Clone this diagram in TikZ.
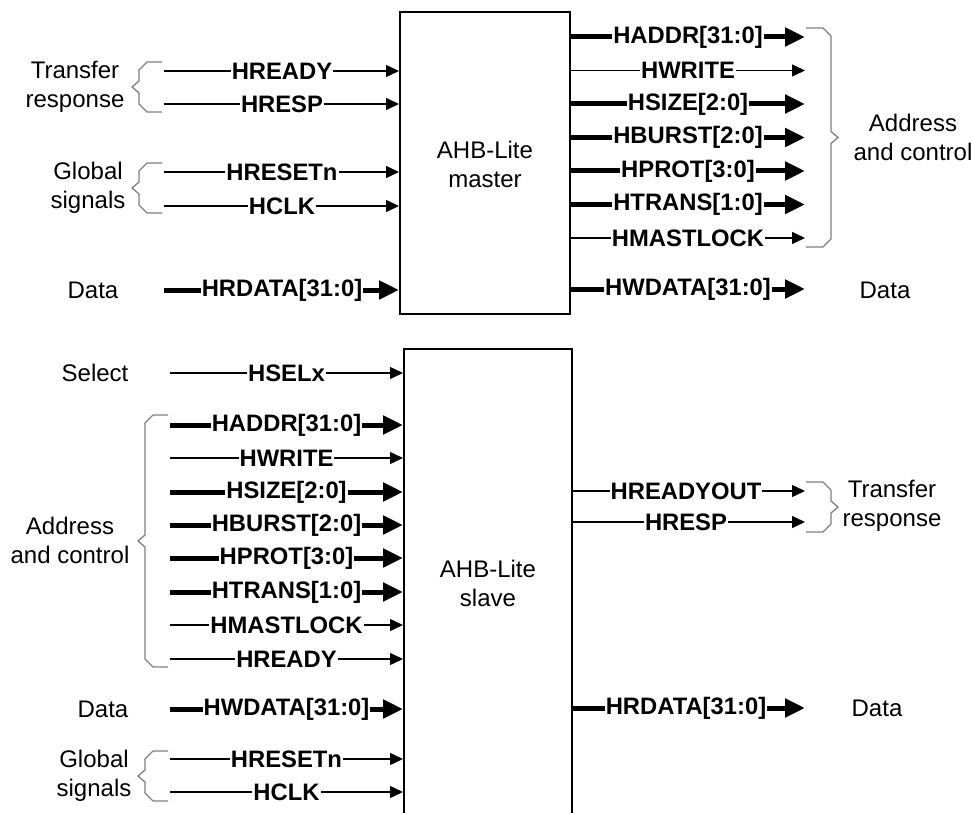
\documentclass[tikz,border=0pt]{standalone}
\usepackage{fontspec}
\setmainfont{Liberation Sans}
\usetikzlibrary{arrows.meta}
\newcommand{\brcL}[4]{% open x, vertical x, top y, bottom y
 \draw[brc] (#1,#3) -- ({#2+8},#3) -- (#2,{#3+8}) -- (#2,{(#3+#4)/2-6}) -- ({#2-7},{(#3+#4)/2}) -- (#2,{(#3+#4)/2+6}) -- (#2,{#4-8}) -- ({#2+8},#4) -- (#1,#4);}
\newcommand{\brcR}[4]{%
 \draw[brc] (#1,#3) -- ({#2-8},#3) -- (#2,{#3+8}) -- (#2,{(#3+#4)/2-6}) -- ({#2+7},{(#3+#4)/2}) -- (#2,{(#3+#4)/2+6}) -- (#2,{#4-8}) -- ({#2-8},#4) -- (#1,#4);}
\begin{document}
\begin{tikzpicture}[x=1pt,y=-1pt,
  ts/.style={line width=1.5pt,-{Triangle[length=13pt,width=12pt]}},
  tk/.style={line width=5pt,-{Triangle[length=20pt,width=18pt]}},
  sig/.style={font=\fontsize{23.8}{28}\selectfont\bfseries, fill=white, inner xsep=1pt, inner ysep=0pt},
  grp/.style={font=\fontsize{24}{29}\selectfont, align=center, inner sep=0pt},
  blk/.style={draw, line width=2pt, inner sep=0pt},
  brc/.style={draw=gray, line width=1.3pt},
]
\useasboundingbox (0,0) rectangle (972,813);
\fill[white] (0,0) rectangle (972,813);

% blocks
\node[blk, minimum width=170pt, minimum height=302pt] (master) at (485,163) {};
\node[grp] (mlabel) at (485,164) {AHB-Lite\\master};
\node[blk, minimum width=168pt, minimum height=480pt, anchor=north] (slave) at (488,348) {};
\node[grp] (slabel) at (488,583) {AHB-Lite\\slave};

% master inputs
\foreach \i/\y/\st/\lab in {1/71/ts/HREADY, 2/104/ts/HRESP, 3/172/ts/HRESETn, 4/206/ts/HCLK, 5/290/tk/{HRDATA[31:0]}} {
  \coordinate (ml\i) at (164,\y);
  \draw[\st] (ml\i) -- (ml\i -| master.west);
  \node[sig] (mlt\i) at (282,\y) {\lab};
}
% master outputs
\foreach \i/\y/\st/\lab in {1/37/tk/{HADDR[31:0]}, 2/70.5/ts/HWRITE, 3/104/tk/{HSIZE[2:0]}, 4/137.5/tk/{HBURST[2:0]}, 5/171/tk/{HPROT[3:0]}, 6/204.5/tk/{HTRANS[1:0]}, 7/238/ts/HMASTLOCK, 8/289/tk/{HWDATA[31:0]}} {
  \coordinate (mr\i) at (805,\y);
  \draw[\st] (mr\i -| master.east) -- (mr\i);
  \node[sig] (mrt\i) at (688,\y) {\lab};
}
% slave inputs
\foreach \i/\y/\st/\lab in {1/373/ts/HSELx, 2/425/tk/{HADDR[31:0]}, 3/458/ts/HWRITE, 4/492/tk/{HSIZE[2:0]}, 5/525/tk/{HBURST[2:0]}, 6/558/tk/{HPROT[3:0]}, 7/592/tk/{HTRANS[1:0]}, 8/625/ts/HMASTLOCK, 9/659/ts/HREADY, 10/709/tk/{HWDATA[31:0]}, 11/759/ts/HRESETn, 12/792/ts/HCLK} {
  \coordinate (sl\i) at (170,\y);
  \draw[\st] (sl\i) -- (sl\i -| slave.west);
  \node[sig] (slt\i) at (286.5,\y) {\lab};
}
% slave outputs
\foreach \i/\y/\st/\lab in {1/491/ts/HREADYOUT, 2/522/ts/HRESP, 3/708/tk/{HRDATA[31:0]}} {
  \coordinate (sr\i) at (805,\y);
  \draw[\st] (sr\i -| slave.east) -- (sr\i);
  \node[sig] (srt\i) at (686,\y) {\lab};
}

% braces
\brcL{162}{139}{62}{112}
\brcL{162}{139}{163}{213}
\brcL{168}{145}{415}{667}
\brcL{168}{145}{751}{801}
\brcR{806}{831}{28}{247}
\brcR{806}{831}{482}{532}

% group labels
\node[grp] (g1) at (75,87) {Transfer\\response};
\node[grp] (g2) at (88,188) {Global\\signals};
\node[grp] (g3) at (93,290) {Data};
\node[grp] (g4) at (913,137.5) {Address\\and control};
\node[grp] (g5) at (885,290) {Data};
\node[grp] (g6) at (95,373) {Select};
\node[grp] (g7) at (70,540) {Address\\and control};
\node[grp] (g8) at (103,709) {Data};
\node[grp] (g9) at (94,776) {Global\\signals};
\node[grp] (g10) at (892,506) {Transfer\\response};
\node[grp] (g11) at (877,708) {Data};
\end{tikzpicture}
\end{document}
